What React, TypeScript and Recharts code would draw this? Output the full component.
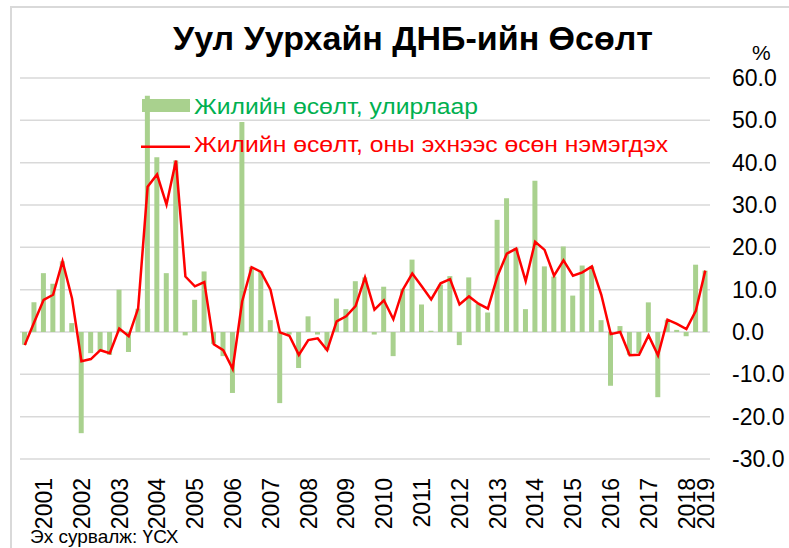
import React from 'react';
import { ComposedChart, Bar, Line, XAxis, YAxis, CartesianGrid, Legend } from 'recharts';

const FONT = '"Liberation Sans", Arial, sans-serif';

const title = 'Уул Уурхайн ДНБ-ийн Өсөлт';
const unitLabel = '%';
const sourceNote = 'Эх сурвалж: ҮСХ';
const seriesNames = ['Жилийн өсөлт, улирлаар', 'Жилийн өсөлт, оны эхнээс өсөн нэмэгдэх'];

const years = ['2001', '2002', '2003', '2004', '2005', '2006', '2007', '2008', '2009', '2010',
  '2011', '2012', '2013', '2014', '2015', '2016', '2017', '2018', '2019'];
const quarters = ['Q1', 'Q2', 'Q3', 'Q4'];

// 2001-Q1 ... 2019-Q1
const periods: string[] = [];
years.forEach((y) => {
  quarters.forEach((q) => {
    if (y === '2019' && q !== 'Q1') return;
    periods.push(`${y}-${q}`);
  });
});

// tick labels on the category axis (year shown at Q3, last year at its only quarter)
const tickLabels: Record<string, string> = {};
years.forEach((y) => {
  tickLabels[y === '2019' ? `${y}-Q1` : `${y}-Q3`] = y;
});

// Year-on-year growth by quarter (bars)
const quarterlyGrowth = [
  -3.0, 7.0, 13.9, 11.4,
  16.7, 2.1, -23.9, -5.0,
  -4.5, -5.4, 10.0, -4.7,
  5.5, 55.8, 41.3, 13.9,
  40.5, -0.8, 7.6, 14.3,
  -2.8, -5.7, -14.4, 49.6,
  15.4, 14.3, 2.8, -16.8,
  -0.6, -8.5, 3.7, -0.6,
  -4.3, 7.9, 5.4, 12.0,
  12.9, -0.6, 10.7, -5.7,
  10.2, 17.1, 6.5, 0.3,
  11.2, 13.2, -3.1, 12.9,
  6.6, 4.6, 26.5, 31.6,
  19.8, 5.4, 35.7, 15.5,
  13.1, 20.2, 8.6, 15.7,
  15.5, 2.8, -12.7, 1.4,
  -5.4, -5.0, 7.0, -15.4,
  2.9, 0.5, -1.0, 15.9,
  14.5,
];

// Year-on-year growth, cumulative from the start of the year (line)
const ytdGrowth = [
  -3.1, 2.3, 7.6, 8.8,
  16.7, 8.0, -6.9, -6.4,
  -4.3, -5.0, 0.8, -1.0,
  5.6, 34.3, 37.2, 30.1,
  40.5, 13.1, 10.8, 11.8,
  -2.9, -4.3, -8.7, 7.2,
  15.3, 14.2, 10.0, -0.1,
  -0.9, -5.4, -1.9, -1.5,
  -4.3, 2.5, 3.7, 6.1,
  12.9, 5.3, 7.5, 3.0,
  10.0, 13.8, 10.8, 7.7,
  11.5, 12.5, 6.5, 8.4,
  6.7, 5.5, 13.1, 18.5,
  19.7, 12.0, 21.3, 19.4,
  13.3, 16.9, 13.3, 14.1,
  15.5, 8.8, -0.5, 0.0,
  -5.5, -5.4, -0.8, -5.5,
  2.9, 1.9, 0.7, 5.0,
  14.5,
];

const yTicks = [-30, -20, -10, 0, 10, 20, 30, 40, 50, 60];

const data = periods.map((p, i) => ({
  period: p,
  quarterly: quarterlyGrowth[i],
  ytd: ytdGrowth[i],
}));

const BAR_COLOR = '#A9D18E';
const LINE_COLOR = '#FF0000';
const GREEN_TEXT = '#00B050';

const YearTick = (props: any) => {
  const { x, y, payload } = props;
  const label = tickLabels[payload.value];
  if (!label) return null;
  return (
    <text
      x={x}
      y={y + 19}
      transform={`rotate(-90, ${x}, ${y + 19})`}
      textAnchor="end"
      dy="0.36em"
      fontSize={23}
      fontFamily={FONT}
      fill="#000"
    >
      {label}
    </text>
  );
};

const LegendContent = () => (
  <svg width={560} height={72} style={{ display: 'block', overflow: 'visible' }}>
    <rect x={2} y={9} width={48} height={13} fill={BAR_COLOR} />
    <text
      x={54}
      y={24.3}
      fontSize={22}
      fontFamily={FONT}
      fill={GREEN_TEXT}
      textLength={284}
      lengthAdjust="spacingAndGlyphs"
    >
      {seriesNames[0]}
    </text>
    <line x1={1} x2={50} y1={56.7} y2={56.7} stroke={LINE_COLOR} strokeWidth={2.5} />
    <text
      x={54}
      y={61.7}
      fontSize={22}
      fontFamily={FONT}
      fill={LINE_COLOR}
      textLength={474}
      lengthAdjust="spacingAndGlyphs"
    >
      {seriesNames[1]}
    </text>
  </svg>
);

export default function App() {
  return (
    <div
      style={{
        position: 'absolute',
        left: 0,
        top: 0,
        width: 789,
        height: 548,
        overflow: 'hidden',
        background: '#fff',
        fontFamily: FONT,
      }}
    >
      <div
        style={{
          position: 'absolute',
          left: 10,
          top: 6,
          width: 779,
          height: 542,
          boxSizing: 'border-box',
          borderLeft: '2px solid #D9D9D9',
          borderTop: '2px solid #D9D9D9',
        }}
      />
      <div style={{ position: 'absolute', left: 0, top: 0 }}>
        <ComposedChart
          width={789}
          height={548}
          data={data}
          margin={{ top: 78, right: 9, bottom: 9, left: 20 }}
          style={{ fontFamily: FONT }}
        >
          <CartesianGrid vertical={false} stroke="#D9D9D9" strokeWidth={1.5} />
          <XAxis
            dataKey="period"
            interval={0}
            axisLine={false}
            tickLine={false}
            tickSize={0}
            tickMargin={0}
            height={80}
            tick={<YearTick />}
          />
          <YAxis
            orientation="right"
            domain={[-30, 60]}
            ticks={yTicks}
            allowDataOverflow
            axisLine={false}
            tickLine={false}
            tickSize={0}
            tickMargin={22}
            width={70}
            tickFormatter={(v: number) => v.toFixed(1)}
            tick={{ fontSize: 23, fill: '#000', fontFamily: FONT }}
          />
          <Legend
            layout="vertical"
            verticalAlign="middle"
            align="center"
            wrapperStyle={{ left: 140, top: 90, width: 560, height: 72 }}
            content={<LegendContent />}
          />
          <Bar
            dataKey="quarterly"
            name={seriesNames[0]}
            fill={BAR_COLOR}
            barSize={5}
            isAnimationActive={false}
          />
          <Line
            dataKey="ytd"
            name={seriesNames[1]}
            type="linear"
            stroke={LINE_COLOR}
            strokeWidth={2.5}
            dot={false}
            activeDot={false}
            isAnimationActive={false}
          />
        </ComposedChart>
      </div>
      <svg
        width={789}
        height={548}
        style={{ position: 'absolute', left: 0, top: 0, pointerEvents: 'none' }}
      >
        <text x={413} y={50} textAnchor="middle" fontSize={34} fontWeight="bold" fontFamily={FONT} fill="#000">
          {title}
        </text>
        <text x={752} y={60} fontSize={21} fontFamily={FONT} fill="#000">
          {unitLabel}
        </text>
        <text x={30} y={543} fontSize={19} fontFamily={FONT} fill="#000">
          {sourceNote}
        </text>
      </svg>
    </div>
  );
}
